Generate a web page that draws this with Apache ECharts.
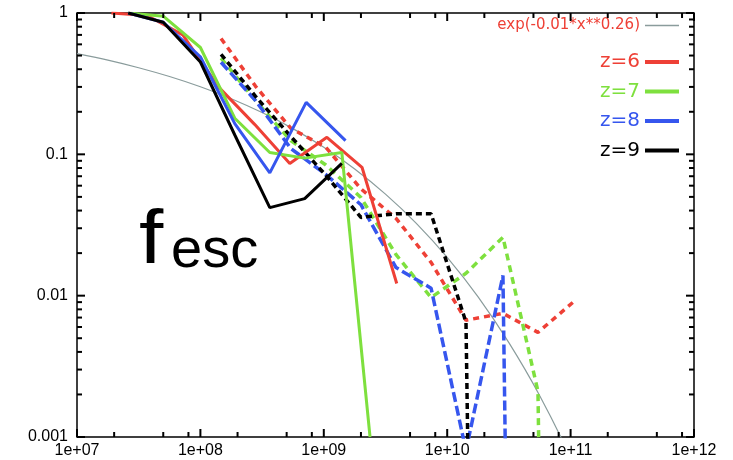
<!DOCTYPE html>
<html><head><meta charset="utf-8">
<script src="https://cdn.jsdelivr.net/npm/echarts@6/dist/echarts.min.js"></script>
<style>html,body{margin:0;padding:0;background:#fff}#c{width:733px;height:460px}</style>
</head><body><div id="c"></div>
<script>
let calls = 0, info = '';
// ---- tick definitions ----
const xMajorTicks = [1e7, 1e8, 1e9, 1e10, 1e11, 1e12];
const xTickLabels = ['1e+07', '1e+08', '1e+09', '1e+10', '1e+11', '1e+12'];
const yMajorTicks = [0.001, 0.01, 0.1, 1];
const yTickLabels = ['0.001', '0.01', '0.1', '1'];
const xMinorMultipliers = [2, 5, 8];
const yMinorMultipliers = [2, 3, 4, 5, 6, 7, 8, 9];

// ---- fit curve exp(-0.01*x**0.26) ----
const fitName = 'exp(-0.01*x**0.26)';
const fitX = [1e7, 1.78e7, 3.16e7, 5.62e7, 1e8, 1.78e8, 3.16e8, 5.62e8, 1e9, 1.78e9, 3.16e9, 5.62e9, 1e10, 1.78e10, 3.16e10, 5.62e10, 1e11, 1.78e11];
const fitY = [0.5165, 0.4642, 0.4101, 0.3552, 0.3006, 0.2476, 0.1975, 0.1520, 0.1121, 0.0788, 0.0523, 0.0325, 0.01867, 0.00981, 0.00465, 0.00196, 0.000714, 0.000222];

// ---- solid curves ----
const z6X = [1.9e7, 3.7e7, 7.2e7, 1.4e8, 2.75e8, 5.3e8, 1.06e9, 2.04e9, 3.9e9];
const z6Y = [1.0, 0.96, 0.70, 0.30, 0.163, 0.086, 0.132, 0.081, 0.0122];
const z7X = [2.6e7, 5e7, 1e8, 1.9e8, 3.65e8, 7e8, 1.4e9, 2.37e9];
const z7Y = [1.0, 0.95, 0.57, 0.18, 0.103, 0.094, 0.103, 0.001];
const z8X = [2.6e7, 5e7, 1e8, 1.9e8, 3.65e8, 7.2e8, 1.5e9];
const z8Y = [1.0, 0.86, 0.49, 0.165, 0.074, 0.233, 0.125];
const z9X = [2.6e7, 5e7, 1e8, 1.9e8, 3.65e8, 7e8, 1.4e9];
const z9Y = [1.0, 0.86, 0.45, 0.137, 0.042, 0.0486, 0.0863];

// ---- dashed curves ----
const dashX = [1.47e8, 2.8e8, 5.4e8, 1.04e9, 2.0e9, 3.85e9, 7.4e9, 1.42e10, 2.83e10, 5.44e10, 1.05e11];
const z6dY = [0.66, 0.303, 0.153, 0.112, 0.057, 0.0352, 0.0172, 0.0067, 0.0075, 0.0055, 0.0090];
const z7dY = [0.48, 0.24, 0.125, 0.084, 0.0495, 0.0195, 0.0097, 0.0144, 0.0259, 0.0021, 1e-20];
const z8dY = [0.448, 0.24, 0.110, 0.072, 0.044, 0.0158, 0.0113, 0.0008, 0.0139, 1e-20];
const z9dY = [0.51, 0.257, 0.134, 0.071, 0.0358, 0.038, 0.038, 0.0065, 1e-20];

const seriesNames = ['z=6', 'z=7', 'z=8', 'z=9'];
const colors = ['#ee4036', '#7ee03e', '#3656ee', '#000000'];
const fitColor = '#8a9c9c';
const FONT = '"Liberation Sans", Arial, Helvetica, sans-serif';
const LEGEND_FONT = '"DejaVu Sans", Verdana, sans-serif';

function pairs(xs, ys) { return ys.map((y, i) => [xs[i], y]); }

// tick marks: [x, y, kind]  kind 0 = x major, 1 = x minor, 2 = y major, 3 = y minor
const tickData = [];
xMajorTicks.forEach(v => tickData.push([v, 0.03, 0]));
for (let d = 7; d < 12; d++) xMinorMultipliers.forEach(m => tickData.push([m * Math.pow(10, d), 0.03, 1]));
yMajorTicks.forEach(v => tickData.push([1e9, v, 2]));
for (let d = -3; d < 0; d++) yMinorMultipliers.forEach(m => tickData.push([1e9, m * Math.pow(10, d), 3]));

const solid = [[z6X, z6Y], [z7X, z7Y], [z8X, z8Y], [z9X, z9Y]];
const dashedY = [z6dY, z7dY, z8dY, z9dY];
const dashPatterns = [[6, 5], [7, 5], [10, 4], [6, 4]];

const series = [{
  name: 'ticks', type: 'custom', data: tickData, encode: {x: 0, y: 1}, z: 9,
  renderItem: function (params, api) {
    calls++;
    const k = api.value(2);
    const len = (k === 0 || k === 2) ? 8 : 5;
    const cs = params.coordSys;
    const p = api.coord([api.value(0), api.value(1)]);
    const st = {stroke: '#000', lineWidth: 2};
    if (k < 2) {
      return {type: 'group', children: [
        {type: 'line', shape: {x1: p[0], y1: cs.y + cs.height, x2: p[0], y2: cs.y + cs.height - len}, style: st},
        {type: 'line', shape: {x1: p[0], y1: cs.y, x2: p[0], y2: cs.y + len}, style: st}]};
    }
    return {type: 'group', children: [
      {type: 'line', shape: {x1: cs.x, y1: p[1], x2: cs.x + len, y2: p[1]}, style: st},
      {type: 'line', shape: {x1: cs.x + cs.width, y1: p[1], x2: cs.x + cs.width - len, y2: p[1]}, style: st}]};
  }
}, {
  name: fitName, type: 'line', data: pairs(fitX, fitY), symbol: 'none', smooth: 0.3,
  itemStyle: {color: fitColor}, lineStyle: {color: fitColor, width: 1.2}, z: 1
}];
for (let i = 0; i < 4; i++) {
  series.push({
    name: seriesNames[i], type: 'line', data: pairs(solid[i][0], solid[i][1]), symbol: 'none',
    itemStyle: {color: colors[i]}, lineStyle: {color: colors[i], width: 3}, z: 3
  });
  series.push({
    name: seriesNames[i] + ' (dashed)', type: 'line', data: pairs(dashX.slice(0, dashedY[i].length), dashedY[i]), symbol: 'none',
    itemStyle: {color: colors[i]}, lineStyle: {color: colors[i], width: 3.5, type: dashPatterns[i]}, z: 2
  });
}

const chart = echarts.init(document.getElementById('c'), null, {renderer: 'canvas'});
try {
chart.setOption({
  animation: false,
  backgroundColor: '#fff',
  grid: {left: 77, right: 39, top: 13, bottom: 23, outerBoundsMode: 'none', containLabel: false,
    show: true, borderColor: '#000', borderWidth: 1.5},
  xAxis: {type: 'log', min: 1e7, max: 1e12,
    axisLine: {show: false}, axisTick: {show: false}, splitLine: {show: false},
    axisLabel: {show: true, color: '#000', fontSize: 16, fontFamily: FONT, margin: 6,
      formatter: v => xTickLabels[xMajorTicks.findIndex(t => Math.abs(Math.log10(t) - Math.log10(v)) < 0.01)]}},
  yAxis: {type: 'log', min: 0.001, max: 1,
    axisLine: {show: false}, axisTick: {show: false}, splitLine: {show: false},
    axisLabel: {show: true, color: '#000', fontSize: 16, fontFamily: FONT, margin: 9,
      formatter: v => yTickLabels[yMajorTicks.findIndex(t => Math.abs(Math.log10(t) - Math.log10(v)) < 0.01)]}},
  legend: [
    {data: [{name: fitName, textStyle: {color: colors[0]}}], orient: 'vertical', right: 54, top: 18, padding: 0,
     align: 'right', icon: 'rect', itemWidth: 34, itemHeight: 1.5,
     textStyle: {fontSize: 15, fontFamily: LEGEND_FONT}},
    {data: seriesNames.map((n, i) => ({name: n, textStyle: {color: colors[i]}})), orient: 'vertical', right: 54, top: 52,
     padding: 0, itemGap: 9.5, align: 'right', icon: 'rect', itemWidth: 34, itemHeight: 4,
     textStyle: {fontSize: 20, fontFamily: LEGEND_FONT}}
  ],
  graphic: [
    {type: 'text', x: 139, y: 242, scaleX: 1.15, z: 10, style: {text: 'f', font: '76px ' + FONT, fill: '#000',
      align: 'left', verticalAlign: 'middle'}},
    {type: 'text', x: 171, y: 252, z: 10, style: {text: 'esc', font: '56px ' + FONT, fill: '#000',
      align: 'left', verticalAlign: 'middle'}}
  ],
  series: series
});
} catch (e) { info += ' CATCH ' + e.message; }
if (calls === 0 || info) {
  chart.setOption({graphic: [{id: 'dbg', type: 'text', x: 90, y: 400, z: 20, style: {text: 'calls=' + calls + info, font: '11px sans-serif', fill: '#f00'}}]});
}
</script>
</body></html>
